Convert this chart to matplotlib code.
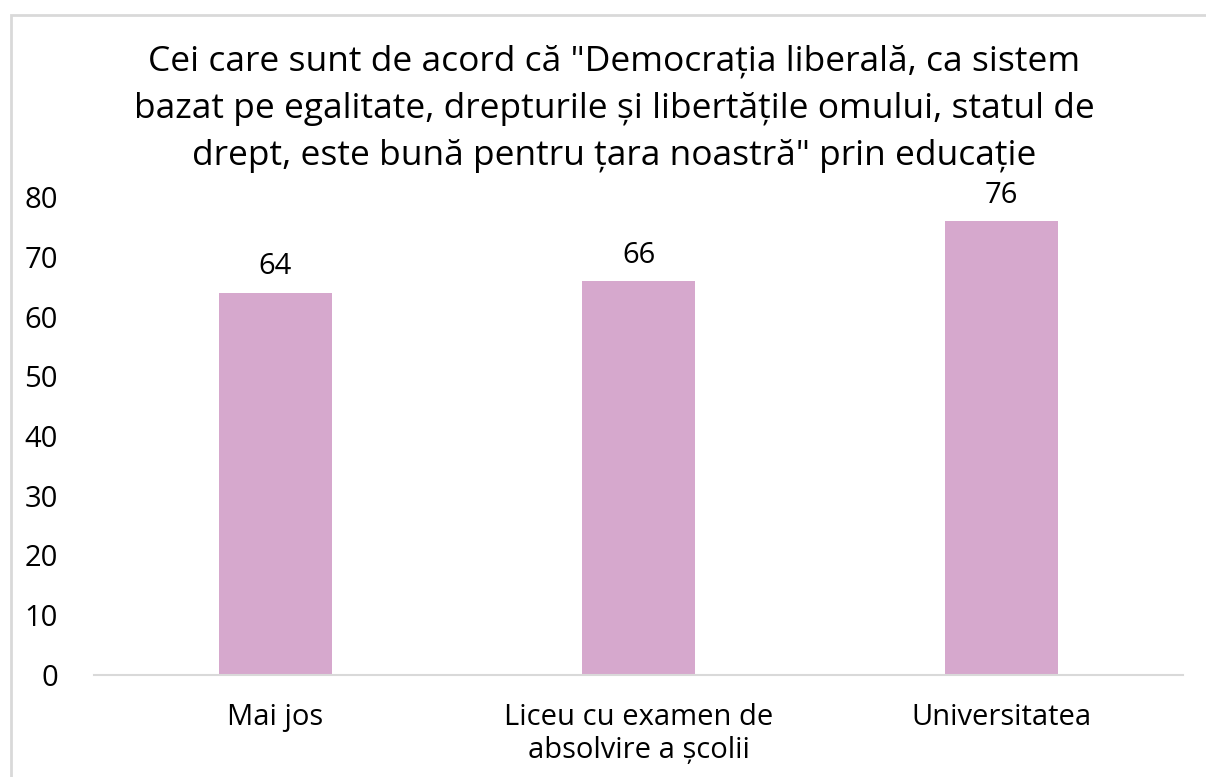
import matplotlib
matplotlib.use("Agg")
import matplotlib.pyplot as plt
from matplotlib.patches import Rectangle

# Date
categories = ["Mai jos", "Liceu cu examen de\nabsolvire a școlii", "Universitatea"]
values = [64, 66, 76]
yticks = [0, 10, 20, 30, 40, 50, 60, 70, 80]
title = ('Cei care sunt de acord că "Democrația liberală, ca sistem\n'
         'bazat pe egalitate, drepturile și libertățile omului, statul de\n'
         'drept, este bună pentru țara noastră" prin educație')

plt.rcParams['font.family'] = ['Open Sans', 'DejaVu Sans']

BAR_COLOR = '#D6A8CD'
W, H = 1206, 777

fig = plt.figure(figsize=(W / 100, H / 100), dpi=100, facecolor='white')

# chenar gri deschis
fig.patches.append(Rectangle((11 / W, -0.1), 1.2, 1.1 - 15 / H, transform=fig.transFigure,
                             fill=False, edgecolor='#D9D9D9', linewidth=2))

ax = fig.add_axes([94 / W, 1 - 675 / H, (1183 - 94) / W, (675 - 197) / H])
x = range(len(categories))
bars = ax.bar(x, values, width=0.314, color=BAR_COLOR)

for b, v in zip(bars, values):
    ax.annotate(str(v), (b.get_x() + b.get_width() / 2, v), xytext=(0, 8),
                textcoords='offset points', ha='center', va='bottom', fontsize=21)

ax.set_xlim(-0.5, 2.5)
ax.set_ylim(0, 80)
ax.set_yticks(yticks)
ax.set_xticks(list(x), categories, fontsize=21, linespacing=1.2)
ax.tick_params(axis='y', length=0, pad=26, labelsize=21)
ax.tick_params(axis='x', length=0, pad=20)
for s in ['top', 'right', 'left']:
    ax.spines[s].set_visible(False)
ax.spines['bottom'].set_color('#D9D9D9')
ax.spines['bottom'].set_linewidth(1.5)

fig.text(614 / W, 1 - 109 / H, title, ha='center', va='center', fontsize=25.5,
         linespacing=1.5)

fig.savefig('out.png', dpi=100)
